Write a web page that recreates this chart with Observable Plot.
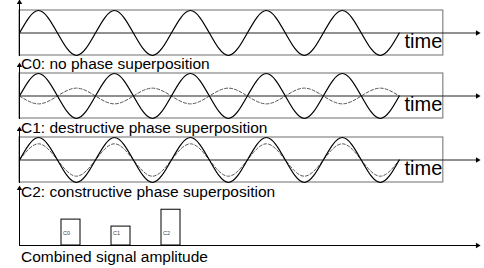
<!DOCTYPE html>
<html>
<head>
<meta charset="utf-8">
<script src="https://cdn.jsdelivr.net/npm/d3@7"></script>
<script src="https://cdn.jsdelivr.net/npm/@observablehq/plot@0.6"></script>
<style>
  html, body { margin: 0; padding: 0; background: #fff; }
  #chart { position: relative; width: 484px; height: 268px; overflow: hidden; font-family: "Liberation Sans", Arial, Helvetica, sans-serif; }
  #chart svg { position: absolute; left: 0; }
  .cap { position: absolute; left: 21px; font-size: 15.5px; line-height: 1; color: #000; white-space: nowrap; }
</style>
</head>
<body>
<div id="chart"></div>
<script>
// Time in periods (quarter-period samples)
const timeSteps = [0, 0.25, 0.5, 0.75, 1, 1.25, 1.5, 1.75, 2, 2.25, 2.5, 2.75, 3, 3.25, 3.5, 3.75, 4, 4.25, 4.5, 4.75, 5];
// C0: single signal
const c0Signal = [0, 1, 0, -1, 0, 1, 0, -1, 0, 1, 0, -1, 0, 1, 0, -1, 0, 1, 0, -1, 0];
// C1: main signal and opposite-phase (destructive) component
const c1Signal = [0, 1, 0, -1, 0, 1, 0, -1, 0, 1, 0, -1, 0, 1, 0, -1, 0, 1, 0, -1, 0];
const c1Other = [0, -0.35, 0, 0.35, 0, -0.35, 0, 0.35, 0, -0.35, 0, 0.35, 0, -0.35, 0, 0.35, 0, -0.35, 0, 0.35, 0];
// C2: main signal and in-phase (constructive) component
const c2Signal = [0, 1, 0, -1, 0, 1, 0, -1, 0, 1, 0, -1, 0, 1, 0, -1, 0, 1, 0, -1, 0];
const c2Other = [0, 0.72, 0, -0.72, 0, 0.72, 0, -0.72, 0, 0.72, 0, -0.72, 0, 0.72, 0, -0.72, 0, 0.72, 0, -0.72, 0];
// Combined amplitude bars
const barCategories = ["C0", "C1", "C2"];
const barAmplitudes = [1.0, 0.73, 1.38];
const captions = ["C0: no phase superposition", "C1: destructive phase superposition", "C2: constructive phase superposition", "Combined signal amplitude"];
const timeLabel = ["time"];

const boxEnd = 5.58;   // time extent of the box
const xEnd = 6.03;     // time axis extent
const chart = document.getElementById("chart");
const font = "'Liberation Sans', Arial, Helvetica, sans-serif";

function series(values) { return timeSteps.map((t, i) => ({t, v: values[i]})); }

function wavePanel(solid, dashed, top) {
  const marks = [
    Plot.rect([0], {x1: 0, x2: boxEnd, y1: -1, y2: 1, fill: "none", stroke: "#858585", strokeWidth: 1.2}),
    Plot.ruleY([0], {stroke: "#222", strokeWidth: 1}),
    Plot.frame({anchor: "left", stroke: "#000", strokeWidth: 1}),
    Plot.dot([0], {frameAnchor: "top-left", symbol: "triangle", r: 2, fill: "#000", stroke: "none"}),
    Plot.dot([0], {x: xEnd, y: 0, rotate: 90, symbol: "triangle", r: 2, fill: "#000", stroke: "none"})
  ];
  if (dashed) marks.push(Plot.line(series(dashed), {x: "t", y: "v", curve: "natural", stroke: "#444", strokeWidth: 0.9, strokeDasharray: "3,2"}));
  marks.push(Plot.line(series(solid), {x: "t", y: "v", curve: "natural", stroke: "#000", strokeWidth: 1.2}));
  marks.push(Plot.text(timeLabel, {text: d => d, x: boxEnd, y: -0.4, dx: -1, textAnchor: "end", fontSize: 20, fill: "#000"}));
  const svg = Plot.plot({
    width: 484, height: 57,
    marginLeft: 19, marginRight: 7, marginTop: 1, marginBottom: 3,
    x: {domain: [0, xEnd], axis: null},
    y: {domain: [-1, 1.356], axis: null},
    style: {fontFamily: font, background: "transparent", overflow: "visible"},
    marks
  });
  svg.style.top = top + "px";
  chart.appendChild(svg);
}

wavePanel(c0Signal, null, 1);
wavePanel(c1Signal, c1Other, 64);
wavePanel(c2Signal, c2Other, 128);

const bars = barCategories.map((c, i) => ({c, a: barAmplitudes[i]}));
const barSvg = Plot.plot({
  width: 484, height: 62,
  marginLeft: 19, marginRight: 7, marginTop: 2, marginBottom: 3,
  x: {type: "band", domain: barCategories, range: [60, 181], paddingInner: 0.627, paddingOuter: 0, axis: null},
  y: {domain: [0, 2.2], axis: null},
  style: {fontFamily: font, background: "transparent", overflow: "visible"},
  marks: [
    Plot.barY(bars, {x: "c", y: "a", fill: "#fff", stroke: "#000", strokeWidth: 1}),
    Plot.text(bars, {x: "c", y: 0, text: "c", dx: -8, dy: -12, textAnchor: "start", fontSize: 5.5, fill: "#444"}),
    Plot.ruleY([0], {stroke: "#000", strokeWidth: 1.2}),
    Plot.frame({anchor: "left", stroke: "#000", strokeWidth: 1}),
    Plot.dot([0], {frameAnchor: "top-left", symbol: "triangle", r: 2, fill: "#000", stroke: "none"}),
    Plot.dot([0], {frameAnchor: "bottom-right", rotate: 90, symbol: "triangle", r: 2, fill: "#000", stroke: "none"})
  ]
});
barSvg.style.top = "186px";
chart.appendChild(barSvg);

const capTops = [56, 120, 184, 249];
captions.forEach((c, i) => {
  const d = document.createElement("div");
  d.className = "cap";
  d.style.top = capTops[i] + "px";
  d.textContent = c;
  chart.appendChild(d);
});
</script>
</body>
</html>
